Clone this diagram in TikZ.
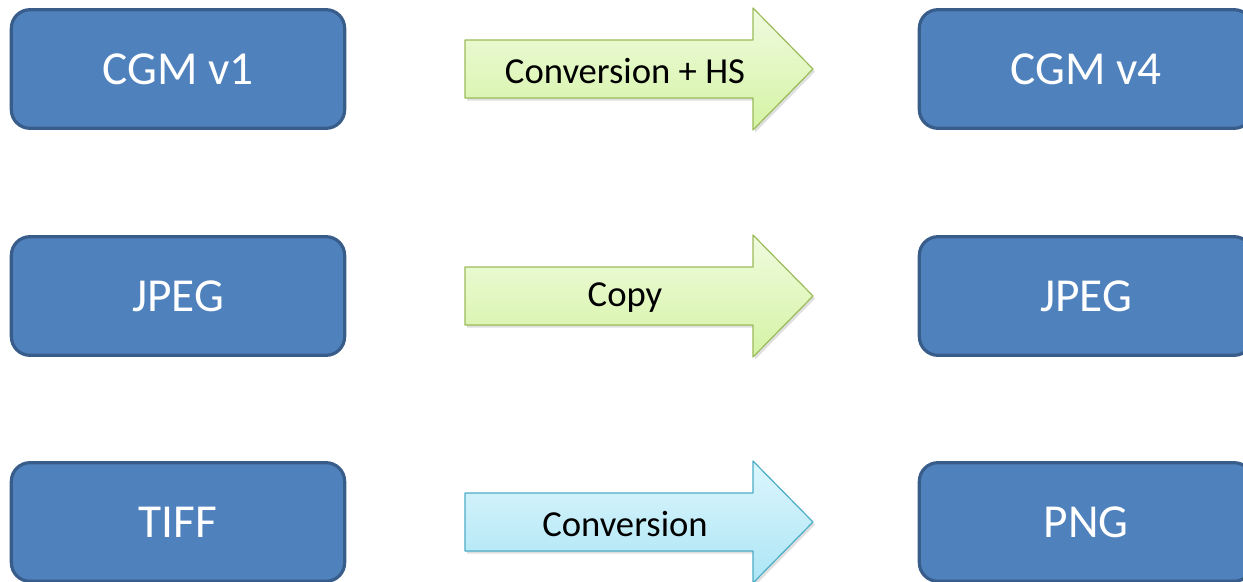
\documentclass[tikz,border=0pt]{standalone}
\usepackage{fontspec}
\setmainfont{Carlito}
\usetikzlibrary{shadows}
\definecolor{boxblue}{RGB}{79,129,189}
\definecolor{boxedge}{RGB}{56,93,138}
\definecolor{greentop}{RGB}{240,251,224}
\definecolor{greenbot}{RGB}{212,243,163}
\definecolor{greenedge}{RGB}{155,187,89}
\definecolor{bluetop}{RGB}{220,246,253}
\definecolor{bluebot}{RGB}{172,229,245}
\definecolor{blueedge}{RGB}{75,172,198}
\begin{document}
\begin{tikzpicture}[x=0.75pt,y=-0.75pt,line join=round,
	box/.style={draw=boxedge,fill=boxblue,line width=2.4pt,rounded corners=14pt,
		minimum width=250pt,minimum height=89pt,text=white,font=\fontsize{35.5}{40}\selectfont},
	greenarrow/.style={draw=greenedge,line width=0.9pt,top color=greentop,bottom color=greenbot,
		drop shadow={opacity=0.25,shadow xshift=1.5pt,shadow yshift=-2pt}},
	bluearrow/.style={draw=blueedge,line width=0.9pt,top color=bluetop,bottom color=bluebot,
		drop shadow={opacity=0.25,shadow xshift=1.5pt,shadow yshift=-2pt}},
	steplabel/.style={font=\fontsize{27.5}{31}\selectfont}]
	\clip (0,0) rectangle (1243,582);
	\foreach \y/\a/\b/\t/\s [count=\i] in {69/CGM v1/CGM v4/Conversion + HS/greenarrow,
		296/JPEG/JPEG/Copy/greenarrow,522/TIFF/PNG/Conversion/bluearrow}{
		\node[box] (src\i) at (178,\y) {\a};
		\node[box] (dst\i) at (1086,\y) {\b};
		\draw[\s] (465,\y-29) -- (753,\y-29) -- (753,\y-61) -- (813,\y)
			-- (753,\y+61) -- (753,\y+29) -- (465,\y+29) -- cycle;
		\node[steplabel] (step\i) at (625,\y+2) {\t};
	}
\end{tikzpicture}
\end{document}
